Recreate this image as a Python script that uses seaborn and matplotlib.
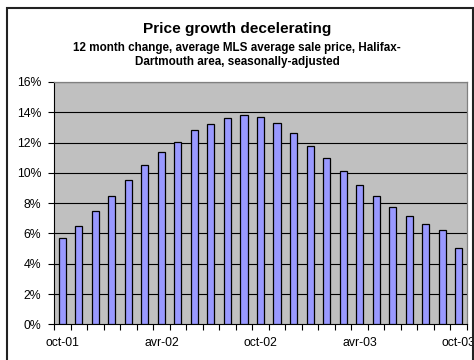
import numpy as np
import matplotlib
matplotlib.use("Agg")
import matplotlib.pyplot as plt
import matplotlib.patches as mpatches
import seaborn as sns

# 12 month change, %, monthly oct-01 .. oct-03
months = ["oct-01", "nov-01", "déc-01", "janv-02", "févr-02", "mars-02", "avr-02",
          "mai-02", "juin-02", "juil-02", "août-02", "sept-02", "oct-02", "nov-02",
          "déc-02", "janv-03", "févr-03", "mars-03", "avr-03", "mai-03", "juin-03",
          "juil-03", "août-03", "sept-03", "oct-03"]
growth = [5.7, 6.5, 7.5, 8.5, 9.55, 10.5, 11.4, 12.05, 12.8, 13.25, 13.65, 13.85,
          13.7, 13.3, 12.65, 11.8, 10.95, 10.1, 9.2, 8.45, 7.75, 7.15, 6.65, 6.2, 5.05]
shown_labels = ["oct-01", "avr-02", "oct-02", "avr-03", "oct-03"]
yticks = [0, 2, 4, 6, 8, 10, 12, 14, 16]

sns.set_style("white")
plt.rcParams["font.family"] = ["Liberation Sans", "DejaVu Sans"]
plt.rcParams.update({"text.color": "black", "xtick.color": "black",
                     "ytick.color": "black", "axes.labelcolor": "black"})

fig = plt.figure(figsize=(4.74, 3.6), dpi=100)
ax = fig.add_axes([54 / 474, 1 - 324.3 / 360, (467 - 54) / 474, (324.3 - 82) / 360])
ax.set_facecolor("#c0c0c0")

sns.barplot(x=months, y=growth, order=months, color="#9999ff", width=0.43,
            edgecolor="black", linewidth=0.9, saturation=1, ax=ax, zorder=3)

ax.set_ylim(0, 16)
ax.set_xlim(-0.5, len(months) - 0.5)
ax.set_yticks(yticks)
ax.set_yticklabels([f"{v}%" for v in yticks], fontsize=8.8)
for v in yticks[1:]:
    ax.axhline(v, color="black", lw=0.8, zorder=1)

# ticks at category boundaries, labels at selected categories
ax.set_xticks(np.arange(-0.5, len(months), 1.0))
ax.set_xticklabels([])
ax.set_xticks([months.index(m) for m in shown_labels], minor=True)
ax.set_xticklabels(shown_labels, minor=True, fontsize=8.8)
ax.tick_params(axis="x", which="major", length=4, width=0.8, color="black", direction="out", bottom=True)
ax.tick_params(axis="x", which="minor", length=0, pad=9)
ax.tick_params(axis="y", length=4, width=0.8, color="black", direction="out", left=True, pad=5)
ax.set_xlabel("")
ax.set_ylabel("")

for s in ["left", "bottom"]:
    ax.spines[s].set_color("black")
    ax.spines[s].set_linewidth(0.8)
for s in ["top", "right"]:
    ax.spines[s].set_color("#808080")
    ax.spines[s].set_linewidth(0.9)

fig.text(0.5, 1 - 29 / 360, "Price growth decelerating", ha="center", va="center",
         fontsize=11.1, fontweight="bold")
fig.text(0.5, 1 - 47.5 / 360, "12 month change, average MLS average sale price, Halifax-",
         ha="center", va="center", fontsize=8.4, fontweight="bold")
fig.text(0.5, 1 - 62.5 / 360, "Dartmouth area, seasonally-adjusted",
         ha="center", va="center", fontsize=8.4, fontweight="bold")

border = mpatches.Rectangle((7 / 474, -0.05), (472.5 - 7) / 474, 1 - 7.5 / 360 + 0.05,
                            transform=fig.transFigure, fill=False, edgecolor="#222222",
                            linewidth=1.5)
fig.patches.append(border)

fig.savefig("out.png", dpi=100)
